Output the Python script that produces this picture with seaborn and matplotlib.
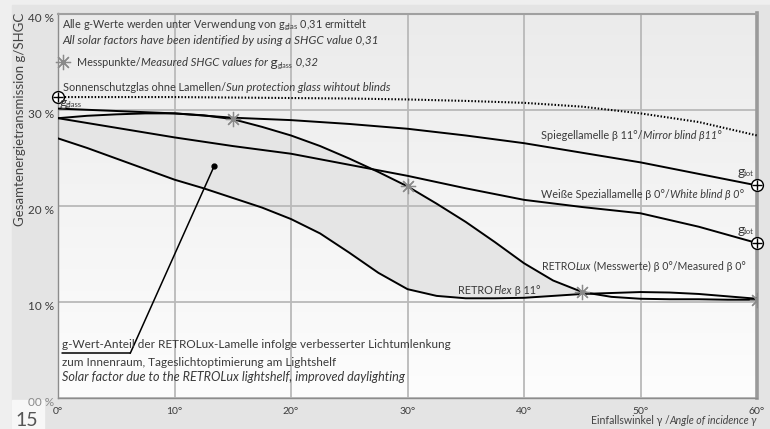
import numpy as np
import matplotlib
matplotlib.use("Agg")
import matplotlib.pyplot as plt
import seaborn as sns
from matplotlib.patches import Rectangle
from matplotlib.transforms import offset_copy, ScaledTranslation

# angles of incidence (deg)
angles5 = [0, 5, 10, 15, 20, 25, 30, 35, 40, 45, 50, 55, 60]
angles = [0, 2.5, 5, 7.5, 10, 12.5, 15, 17.5, 20, 22.5, 25, 27.5, 30,
          32.5, 35, 37.5, 40, 42.5, 45, 47.5, 50, 52.5, 55, 57.5, 60]

# g values in %
g_glass = [31.3, 31.3, 31.3, 31.25, 31.2, 31.15, 31.05, 30.9, 30.7, 30.3, 29.6, 28.7, 27.3]
g_mirror = [30.1, 29.85, 29.6, 29.15, 28.9, 28.5, 28.0, 27.3, 26.5, 25.5, 24.5, 23.3, 22.1]
g_white = [29.1, 28.1, 27.1, 26.2, 25.4, 24.25, 23.1, 21.8, 20.6, 19.85, 19.2, 17.8, 16.1]
g_retrolux = [29.1, 29.35, 29.5, 29.6, 29.6, 29.4, 29.0, 28.2, 27.3, 26.2, 24.9, 23.5, 22.0,
              20.2, 18.3, 16.2, 14.0, 12.2, 11.0, 10.5, 10.3, 10.25, 10.25, 10.2, 10.2]
g_retroflex = [27.0, 26.0, 24.9, 23.8, 22.7, 21.8, 20.8, 19.8, 18.6, 17.1, 15.1, 13.0, 11.3,
               10.6, 10.35, 10.35, 10.4, 10.6, 10.8, 10.9, 11.0, 10.95, 10.8, 10.55, 10.3]
meas_angles = [15, 30, 45, 60]
meas_g = [29.0, 22.0, 11.0, 10.2]

y_ticks = [0, 10, 20, 30, 40]
y_labels = ["00 %", "10 %", "20 %", "30 %", "40 %"]
x_ticks = [0, 10, 20, 30, 40, 50, 60]
x_labels = ["0°", "10°", "20°", "30°", "40°", "50°", "60°"]

sns.set_theme(style="white")
plt.rcParams["font.family"] = ["Lato", "DejaVu Sans"]
plt.rcParams["mathtext.fontset"] = "custom"
plt.rcParams["mathtext.rm"] = "Lato"
plt.rcParams["mathtext.it"] = "Lato:italic"

TXT = "#3a3a3a"
FS = 7.8
ASTER = (8, 2, 0)

fig = plt.figure(figsize=(7.7, 4.29), dpi=100, facecolor="#efefef")
fig.patches.append(Rectangle((12 / 770, 0), 1, 424 / 429, transform=fig.transFigure,
                             color="#e4e4e4", zorder=-10))
fig.patches.append(Rectangle((12 / 770, 0), 32 / 770, 29 / 429, transform=fig.transFigure,
                             color="#f7f7f7", zorder=-9))
fig.text(15 / 770, 1 - 412 / 429, "15", fontsize=14, color="#555555", va="top")

ax = fig.add_axes([58 / 770, 1 - 397.7 / 429, 699 / 770, 384.2 / 429])
grad = np.linspace(0, 1, 256).reshape(-1, 1)
ax.imshow(grad, cmap=matplotlib.colors.LinearSegmentedColormap.from_list(
    "bg", ["#ebebeb", "#fdfdfd"]), extent=[0, 1, 0, 1], transform=ax.transAxes,
    aspect="auto", zorder=0)
ax.set_xlim(0, 60)
ax.set_ylim(0, 40)

renderer = fig.canvas.get_renderer()


def rich(x, y, parts, trans=None, ha="left", **kw):
    """Place text pieces with different styles one after another."""
    trans = trans or ax.transData
    arts, widths, dys = [], [], []
    for s, extra in parts:
        extra = dict(extra)
        dys.append(extra.pop("dy", 0))
        opts = dict(fontsize=FS, color=TXT, va="center")
        opts.update(kw)
        opts.update(extra)
        t = fig.text(x, y, s, transform=trans, ha="left", **opts)
        arts.append(t)
        widths.append(t.get_window_extent(renderer).width)
    pos = -sum(widths) if ha == "right" else 0
    for t, w, dy in zip(arts, widths, dys):
        t.set_transform(offset_copy(trans, fig=fig, x=pos, y=dy, units="dots"))
        pos += w


UP = {}
IT = {"style": "italic"}
NOTE = 8.5

# shaded RETROLux share
lux = np.array(g_retrolux)
flex = np.array(g_retroflex)
ax.fill_between(angles, flex, lux, where=lux >= flex, interpolate=True,
                color="#e5e5e5", lw=0, zorder=1)

for xs, ys in [(angles5, g_mirror), (angles5, g_white),
               (angles, g_retrolux), (angles, g_retroflex)]:
    sns.lineplot(x=xs, y=ys, ax=ax, color="black", lw=1.4, estimator=None,
                 sort=False, zorder=3)
ax.plot(angles5, g_glass, color="black", lw=1.5, ls=(0, (0.7, 0.9)), zorder=3)

ax.plot(meas_angles, meas_g, ls="none", marker=ASTER, ms=11, mew=0.9,
        mec="#8a8a8a", zorder=4)

# oplus markers
for xv, yv in [(angles5[0], g_glass[0]), (angles5[-1], g_mirror[-1]),
               (angles5[-1], g_white[-1])]:
    ax.plot(xv, yv, marker="o", ms=8.5, mfc="white", mec="black", mew=1.0,
            zorder=5, clip_on=False)
    ax.plot(xv, yv, marker="+", ms=7, mec="black", mew=1.0, zorder=6, clip_on=False)

# axes styling
ax.set_axisbelow("line")
ax.set_xticks(x_ticks)
ax.set_xticklabels(x_labels)
ax.set_yticks(y_ticks)
ax.set_yticklabels(y_labels)
ax.grid(True, color="#b9b9b9", lw=1.3)
ax.tick_params(length=0, labelcolor="#3c3c3c")
ax.tick_params(axis="y", pad=3, labelsize=8.5)
ax.tick_params(axis="x", pad=7, labelsize=7.5)
for lab in ax.get_yticklabels():
    lab.set_transform(lab.get_transform() + ScaledTranslation(0, -3 / 72, fig.dpi_scale_trans))
ax.get_yticklabels()[0].set_color("#8a8a8a")
for side, lw, col in [("left", 1.0, "#8c8c8c"), ("bottom", 1.0, "#8c8c8c"),
                      ("top", 1.5, "#a0a0a0"), ("right", 2.6, "#9a9a9a")]:
    ax.spines[side].set_visible(True)
    ax.spines[side].set_linewidth(lw)
    ax.spines[side].set_color(col)

fig.text(20 / 770, 1 - 13 / 429, "Gesamtenergietransmission g/SHGC", rotation=90,
         ha="center", va="top", fontsize=9.5, color="#444444")
rich(757 / 770, 1 - 421 / 429,
     [("Einfallswinkel γ /", UP), ("Angle of incidence γ", IT)],
     trans=fig.transFigure, ha="right", color="#444444", fontsize=7.6)

# header notes
rich(0.34, 38.8, [(r"Alle g-Werte werden unter Verwendung von $\mathregular{g_{glas}}$ 0,31 ermittelt", UP)])
rich(0.34, 37.2, [("All solar factors have been identified by using a SHGC value 0,31", IT)],
     fontsize=8.45)
ax.plot(0.43, 34.95, ls="none", marker=ASTER, ms=11, mew=0.9, mec="#8a8a8a",
        zorder=4, clip_on=False)
rich(1.63, 34.95, [("Messpunkte/", UP),
                   ("Measured SHGC values for", dict(IT, fontsize=8.2)),
                   (" g", dict(fontsize=10, dy=-1)),
                   ("glass", dict(fontsize=5, dy=-3)),
                   (" 0,32", dict(IT, fontsize=8.2))])
rich(0.43, 32.25, [("Sonnenschutzglas ohne Lamellen/", UP),
                   ("Sun protection glass wihtout blinds", dict(IT, fontsize=8.2))])
rich(0.1, 30.6, [("g", dict(fontsize=10, dy=1)), ("glass", dict(fontsize=5.5, dy=-1))])

# curve labels
rich(41.5, 27.35, [("Spiegellamelle β 11°/", UP), ("Mirror blind β11°", IT)])
rich(58.3, 23.4, [("g", dict(fontsize=10, dy=1)), ("tot", dict(fontsize=5.5, dy=-1))])
rich(41.5, 21.2, [("Weiße Speziallamelle β 0°/", UP), ("White blind β 0°", IT)])
rich(58.3, 17.4, [("g", dict(fontsize=10, dy=1)), ("tot", dict(fontsize=5.5, dy=-1))])
rich(41.55, 13.65, [("RETRO", UP), ("Lux", IT), (" (Messwerte) β 0°/Measured β 0°", UP)],
     fontsize=7.6)
rich(34.35, 11.15, [("RETRO", UP), ("Flex", IT), (" β 11°", UP)])

# lightshelf note
rich(0.34, 5.5, [("g-Wert-Anteil der RETROLux-Lamelle infolge verbesserter Lichtumlenkung", UP)],
     fontsize=NOTE)
rich(0.34, 3.7, [("zum Innenraum, Tageslichtoptimierung am Lightshelf", UP)], fontsize=NOTE)
rich(0.34, 2.15, [("Solar factor due to the RETROLux lightshelf, improved daylighting", IT)],
     fontsize=9.1)
ax.plot([0.34, 6.2], [4.62, 4.62], color="black", lw=1.1, zorder=4)
ax.annotate("", xy=(13.4, 24.1), xytext=(6.2, 4.62),
            arrowprops=dict(arrowstyle="-", color="black", lw=1.1,
                            shrinkA=0, shrinkB=0), zorder=4)
ax.plot(13.4, 24.1, marker="o", ms=3.5, color="black", zorder=5)

fig.savefig("out.png", dpi=100, facecolor=fig.get_facecolor())
